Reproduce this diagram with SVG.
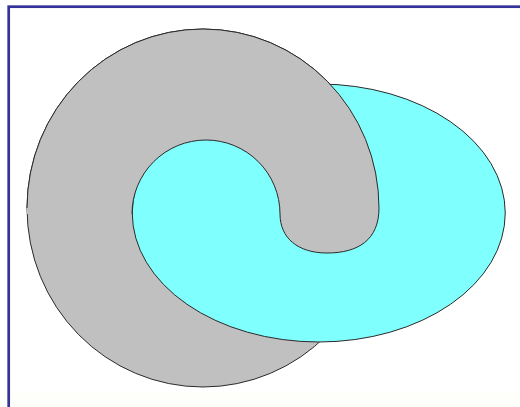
<svg xmlns="http://www.w3.org/2000/svg" width="520" height="407" viewBox="0 0 520 407">
<style>
.ol{stroke:#2a2a2a;stroke-width:1;}
.gray{fill:#c0c0c0;}
.cyan{fill:#80ffff;}
</style>
<rect x="0" y="0" width="520" height="407" fill="#ffffff"/>
<rect x="0" y="393" width="520" height="14" fill="#fefefb"/>
<rect id="frame" x="8.7" y="6.7" width="530" height="420" fill="none" stroke="#333399" stroke-width="2.7"/>
<g id="gray-disk">
<ellipse class="gray ol" cx="203" cy="208" rx="176" ry="179"/>
</g>
<g id="cyan-ellipse">
<ellipse class="cyan ol" cx="318.75" cy="213" rx="186.5" ry="129"/>
</g>
<g id="gray-hook">
<path class="gray" d="M27,208 A176,179 0 0 1 379,208 C379,240 358,253 327,253 C298,253 280,238 280,214 A74,74 0 0 0 132,214 L27,214 Z"/>
<path class="ol" fill="none" d="M27,208 A176,179 0 0 1 379,208 C379,240 358,253 327,253 C298,253 280,238 280,214 A74,74 0 0 0 132,214"/>
</g>
</svg>
